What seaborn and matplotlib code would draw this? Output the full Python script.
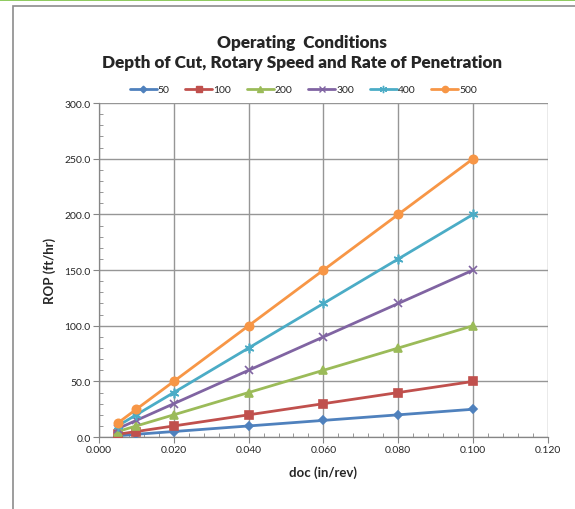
import pandas as pd
import seaborn as sns
import matplotlib.pyplot as plt
from matplotlib.patches import Rectangle
from matplotlib.lines import Line2D
from matplotlib.ticker import MultipleLocator, FormatStrFormatter

# Dados
doc = [0.005, 0.010, 0.020, 0.040, 0.060, 0.080, 0.100]
rpm = ["50", "100", "200", "300", "400", "500"]
rop_50 = [1.25, 2.5, 5.0, 10.0, 15.0, 20.0, 25.0]
rop_100 = [2.5, 5.0, 10.0, 20.0, 30.0, 40.0, 50.0]
rop_200 = [5.0, 10.0, 20.0, 40.0, 60.0, 80.0, 100.0]
rop_300 = [7.5, 15.0, 30.0, 60.0, 90.0, 120.0, 150.0]
rop_400 = [10.0, 20.0, 40.0, 80.0, 120.0, 160.0, 200.0]
rop_500 = [12.5, 25.0, 50.0, 100.0, 150.0, 200.0, 250.0]

series = [rop_50, rop_100, rop_200, rop_300, rop_400, rop_500]
cores = ["#4F81BD", "#C0504D", "#9BBB59", "#8064A2", "#4BACC6", "#F79646"]
marcadores = ["D", "s", "^", "x", (6, 2, 0), "o"]
tamanhos = [4.5, 5.5, 6, 6, 7, 6]

df = pd.DataFrame({"doc": doc * len(rpm),
                   "rpm": [r for r in rpm for _ in doc],
                   "rop": [v for s in series for v in s]})

sns.set_style("white")
plt.rcParams["font.family"] = ["Lato", "DejaVu Sans"]

fig = plt.figure(figsize=(5.75, 5.10), dpi=100)
ax = fig.add_axes([0.172, 0.141, 0.781, 0.655])

for r, cor, m, tam in zip(rpm, cores, marcadores, tamanhos):
    sub = df[df["rpm"] == r]
    sns.lineplot(data=sub, x="doc", y="rop", ax=ax, color=cor, marker=m,
                 markersize=tam, markeredgecolor=cor, markeredgewidth=1.2,
                 linewidth=2.0, zorder=3)

ax.set_xlim(0, 0.120)
ax.set_ylim(0, 300)
ax.xaxis.set_major_locator(MultipleLocator(0.020))
ax.xaxis.set_minor_locator(MultipleLocator(0.004))
ax.yaxis.set_major_locator(MultipleLocator(50))
ax.yaxis.set_minor_locator(MultipleLocator(10))
ax.xaxis.set_major_formatter(FormatStrFormatter("%.3f"))
ax.yaxis.set_major_formatter(FormatStrFormatter("%.1f"))
ax.grid(True, which="major", color="#969696", linewidth=1.0)
ax.tick_params(axis="both", which="major", direction="out", length=4, width=0.8,
               color="#868686", labelsize=7.5, pad=2, bottom=True, left=True)
ax.tick_params(axis="both", which="minor", direction="in", length=3, width=0.6,
               color="#868686", bottom=True, left=True)
for lado in ["top", "right"]:
    ax.spines[lado].set_visible(False)
for lado in ["left", "bottom"]:
    ax.spines[lado].set_color("#868686")
    ax.spines[lado].set_linewidth(0.9)

ax.set_xlabel("doc (in/rev)", fontsize=9.5, fontweight="bold", labelpad=8)
ax.set_ylabel("ROP (ft/hr)", fontsize=9.5, fontweight="bold", labelpad=6)

# legenda com marcadores menores
handles = [Line2D([], [], color=c, marker=m, markersize=t * 0.75,
                  markeredgecolor=c, linewidth=2.0)
           for c, m, t in zip(cores, marcadores, tamanhos)]
ax.legend(handles, rpm, loc="center", bbox_to_anchor=(0.455, 1.04), ncol=6,
          frameon=False, fontsize=7.5, handlelength=2.6, handletextpad=0.1,
          columnspacing=1.5)

fig.text(0.525, 0.916, "Operating  Conditions", ha="center", va="center",
         fontsize=12.3, fontweight="heavy")
fig.text(0.525, 0.876, "Depth of Cut, Rotary Speed and Rate of Penetration",
         ha="center", va="center", fontsize=12.3, fontweight="heavy")

# moldura do grafico
fig.patches.append(Rectangle((13 / 575, -0.1), 1.2, (510 - 7) / 510 + 0.1,
                             transform=fig.transFigure, fill=False,
                             edgecolor="#8C8C8C", linewidth=1.2))
fig.lines.append(Line2D([0, 1], [0.999, 0.999], transform=fig.transFigure,
                        color="#7AC143", linewidth=1.2))

fig.savefig("out.png", dpi=100)
